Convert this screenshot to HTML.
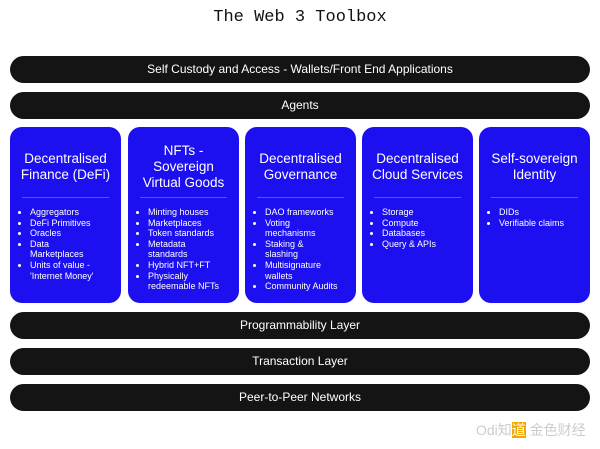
<!DOCTYPE html>
<html><head><meta charset="utf-8"><style>
body{margin:0;width:600px;height:449px;background:#fff;position:relative;font-family:"Liberation Sans",sans-serif;overflow:hidden}
.t{position:absolute;top:8px;left:0;width:600px;text-align:center;font-family:"Liberation Mono",monospace;font-size:17px;color:#111}
.bar{position:absolute;left:10px;width:580px;height:27px;background:#141414;border-radius:14px;color:#fff;font-size:12px;line-height:27px;text-align:center}
.card{position:absolute;top:127px;width:111px;height:176px;background:#1c0ff0;border-radius:12px;color:#fff}
.card h{display:block;text-align:center;font-size:13.5px;line-height:16px;margin-top:24px;height:46px}
.card hr{border:0;border-top:1px solid #5a52f5;margin:0 12px}
.card ul{margin:9px 0 0 0;padding:0 18px 0 20px;font-size:9px;line-height:10.6px}
.wm{position:absolute;left:476px;top:420px;font-size:14px;color:#ccc;font-family:"Liberation Sans","Noto Sans CJK SC",sans-serif}
</style></head><body>
<div class="t">The Web 3 Toolbox</div>
<div class="bar" style="top:56px">Self Custody and Access - Wallets/Front End Applications</div>
<div class="bar" style="top:92px">Agents</div>
<div class="card" style="left:10px"><h>Decentralised<br>Finance (DeFi)</h><hr><ul><li>Aggregators</li><li>DeFi Primitives</li><li>Oracles</li><li>Data Marketplaces</li><li>Units of value - 'Internet Money'</li></ul></div>
<div class="card" style="left:128px"><h style="margin-top:16px;height:54px">NFTs -<br>Sovereign<br>Virtual Goods</h><hr><ul><li>Minting houses</li><li>Marketplaces</li><li>Token standards</li><li>Metadata standards</li><li>Hybrid NFT+FT</li><li>Physically redeemable NFTs</li></ul></div>
<div class="card" style="left:245px"><h>Decentralised<br>Governance</h><hr><ul><li>DAO frameworks</li><li>Voting mechanisms</li><li>Staking &amp; slashing</li><li>Multisignature wallets</li><li>Community Audits</li></ul></div>
<div class="card" style="left:362px"><h>Decentralised<br>Cloud Services</h><hr><ul><li>Storage</li><li>Compute</li><li>Databases</li><li>Query &amp; APIs</li></ul></div>
<div class="card" style="left:479px"><h>Self-sovereign<br>Identity</h><hr><ul><li>DIDs</li><li>Verifiable claims</li></ul></div>
<div class="bar" style="top:312px">Programmability Layer</div>
<div class="bar" style="top:348px">Transaction Layer</div>
<div class="bar" style="top:384px">Peer-to-Peer Networks</div>
<div class="wm">Odi知<span style="background:#f2a900;color:#fff">道</span> 金色财经</div>
</body></html>
